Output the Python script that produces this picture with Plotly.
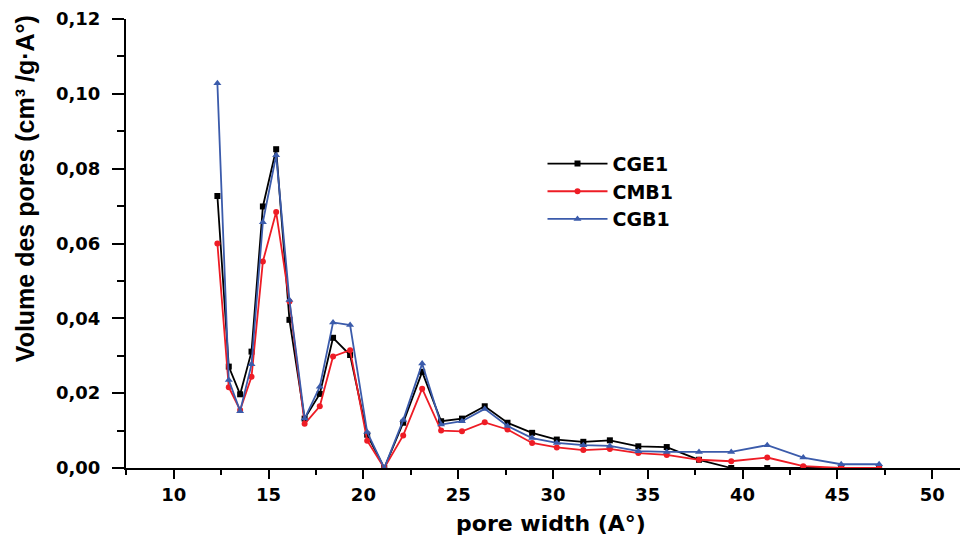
import plotly.graph_objects as go

pore_width = [12.3, 12.9, 13.5, 14.1, 14.7, 15.4, 16.1, 16.9, 17.7, 18.4,
              19.3, 20.2, 21.1, 22.1, 23.1, 24.1, 25.2, 26.4, 27.6, 28.9,
              30.2, 31.6, 33.0, 34.5, 36.0, 37.7, 39.4, 41.3, 43.2, 45.2, 47.2]

cge1 = [0.0727, 0.0271, 0.0197, 0.0311, 0.0699, 0.0852, 0.0396, 0.0132, 0.0198, 0.0348,
        0.0302, 0.0089, 0.0, 0.0121, 0.0257, 0.0125, 0.0132, 0.0165, 0.0121, 0.0094,
        0.0076, 0.0070, 0.0074, 0.0058, 0.0056, 0.0022, 0.0, 0.0, 0.0, 0.0, 0.0]

cmb1 = [0.0600, 0.0216, 0.0155, 0.0244, 0.0552, 0.0684, 0.0445, 0.0118, 0.0165, 0.0298,
        0.0315, 0.0073, 0.0, 0.0087, 0.0212, 0.0100, 0.0098, 0.0122, 0.0103, 0.0067,
        0.0055, 0.0048, 0.0051, 0.0040, 0.0035, 0.0022, 0.0018, 0.0028, 0.0005, 0.0, 0.0]

cgb1 = [0.1028, 0.0235, 0.0152, 0.0277, 0.0657, 0.0836, 0.0449, 0.0132, 0.0217, 0.0389,
        0.0382, 0.0096, 0.0, 0.0128, 0.0279, 0.0116, 0.0125, 0.0158, 0.0112, 0.0080,
        0.0067, 0.0061, 0.0059, 0.0045, 0.0043, 0.0043, 0.0043, 0.0061, 0.0028, 0.0010, 0.0010]

series = [
    ("CGE1", cge1, "#000000", "square", 6),
    ("CMB1", cmb1, "#ee1c25", "circle", 6),
    ("CGB1", cgb1, "#3b5bab", "triangle-up", 7),
]

fig = go.Figure()
for name, vals, color, sym, msize in series:
    fig.add_trace(go.Scatter(
        x=pore_width, y=vals, name=name, mode="lines+markers",
        line=dict(color=color, width=1.8),
        marker=dict(symbol=sym, size=msize, color=color),
    ))

bold_wide = "DejaVu Sans, Verdana, sans-serif"

fig.update_layout(
    width=968, height=542,
    margin=dict(l=118, r=0, t=11, b=82),
    paper_bgcolor="white", plot_bgcolor="white",
    separators=",.",
    showlegend=True,
    legend=dict(
        x=0.49, y=0.72, xanchor="left", yanchor="top",
        font=dict(family=bold_wide, size=19, color="#000", weight="bold"),
        bgcolor="rgba(0,0,0,0)", tracegroupgap=0, itemwidth=60,
    ),
    xaxis=dict(
        range=[7.48, 52.31], tickvals=[10, 15, 20, 25, 30, 35, 40, 45, 50],
        ticks="outside", ticklen=9, tickwidth=2, tickcolor="#000",
        showline=True, linecolor="#000", linewidth=2, showgrid=False, zeroline=False,
        ticklabelstandoff=0,
        tickfont=dict(family=bold_wide, size=18, color="#000", weight="bold"),
        minor=dict(dtick=2.5, tick0=0, ticks="outside", ticklen=5, tickwidth=1.5, tickcolor="#000", showgrid=False),
        title=dict(text="pore width (A°)", standoff=12,
                   font=dict(family=bold_wide, size=22, color="#000", weight="bold")),
    ),
    yaxis=dict(
        range=[0, 0.12], dtick=0.02, tick0=0, tickformat=".2f",
        ticks="outside", ticklen=12, tickwidth=2, tickcolor="#000",
        showline=True, linecolor="#000", linewidth=2, showgrid=False, zeroline=False,
        ticklabelstandoff=8,
        tickfont=dict(family=bold_wide, size=18, color="#000", weight="bold"),
        minor=dict(dtick=0.01, tick0=0, ticks="outside", ticklen=7, tickwidth=1.5, tickcolor="#000", showgrid=False),
    ),
    annotations=[dict(
        text="Volume des pores (cm³ /g·A°)", textangle=-90,
        xref="paper", yref="paper", x=-0.1188, y=0.621,
        xanchor="center", yanchor="middle", showarrow=False,
        font=dict(family="Liberation Sans, Arial, sans-serif", size=25, color="#000", weight="bold"),
    )],
)

fig.write_html("out.html")
